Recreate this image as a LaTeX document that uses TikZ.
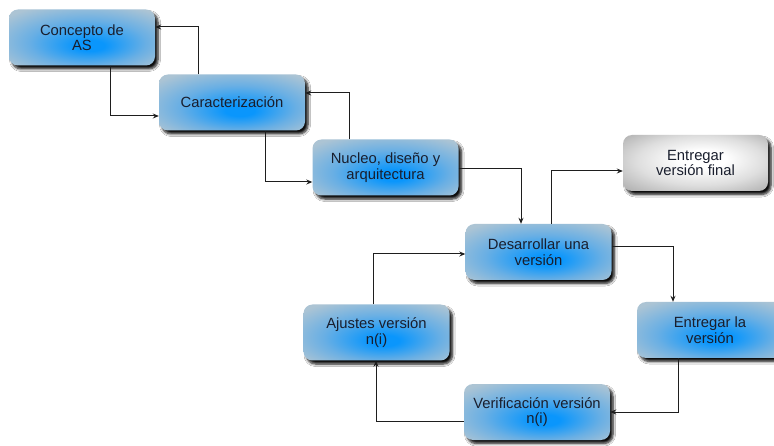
\documentclass[tikz,border=0pt]{standalone}
\usepackage{fontspec}
\setmainfont{Liberation Sans}
\usetikzlibrary{shadows,shadows.blur,arrows.meta,calc}
\definecolor{boxin}{RGB}{10,150,252}
\definecolor{boxmid}{RGB}{105,175,228}
\definecolor{boxout}{RGB}{172,196,212}
\definecolor{grayin}{RGB}{255,255,255}
\definecolor{graymid}{RGB}{222,222,222}
\definecolor{grayout}{RGB}{175,175,175}
\definecolor{txt}{RGB}{25,30,45}
\definecolor{ln}{RGB}{30,30,30}
\pgfdeclareradialshading{blueshade}{\pgfpoint{3bp}{-8bp}}{color(0bp)=(boxin); color(5bp)=(boxin); color(20bp)=(boxmid); color(34bp)=(boxout); color(50bp)=(boxout)}
\pgfdeclareradialshading{grayshade}{\pgfpoint{3bp}{4bp}}{color(0bp)=(grayin); color(8bp)=(grayin); color(22bp)=(graymid); color(36bp)=(grayout); color(50bp)=(grayout)}
\tikzset{
  box/.style={rectangle, rounded corners=9pt, minimum width=146pt, minimum height=56pt,
    inner sep=2pt, align=center, text=txt, font=\fontsize{14.8}{15.5}\selectfont,
    shading=blueshade,
    blur shadow={shadow xshift=3pt, shadow yshift=-3.5pt, shadow blur radius=2.5pt, shadow opacity=95, shadow blur steps=6}},
  graybox/.style={box, shading=grayshade},
  conn/.style={draw=ln, line width=1pt, -{Stealth[length=6pt,width=5pt]}}
}
\begin{document}
\begin{tikzpicture}[x=1pt,y=-1pt]
\useasboundingbox (0,0) rectangle (774,446);
\fill[white] (0,0) rectangle (774,446);
\node[box] (c1) at (82,37.5) {Concepto de\\AS};
\node[box] (c2) at (232,102.5) {Caracterización};
\node[box] (c3) at (385.5,167.5) {Nucleo, diseño y\\arquitectura};
\node[graybox, minimum width=145pt] (fin) at (695.5,163) {Entregar\\versión final};
\node[box] (des) at (538.5,252) {Desarrollar una\\versión};
\node[box] (ent) at (710,330) {Entregar la\\versión};
\node[box] (aju) at (376.5,332.5) {Ajustes versión\\n(i)};
\node[box] (ver) at (537,412) {Verificación versión\\n(i)};
% connectors
\draw[conn] ([xshift=-34pt]c2.north) |- ([yshift=10.5pt]c1.east);
\draw[conn] ([xshift=28pt]c1.south) |- ([yshift=-13.5pt]c2.west);
\draw[conn] ([xshift=-36.5pt]c3.north) |- ([yshift=9.5pt]c2.east);
\draw[conn] ([xshift=33pt]c2.south) |- ([yshift=-14.5pt]c3.west);
\draw[conn] ([yshift=-1.5pt]c3.east) -| ([xshift=-17.5pt]des.north);
\draw[conn] ([xshift=12.5pt]des.north) |- ([yshift=-8pt]fin.west);
\draw[conn] ([yshift=5pt]des.east) -| ([xshift=-37pt]ent.north);
\draw[conn] ([xshift=-32pt]ent.south) |- (ver.east);
\draw[conn] ([yshift=-9pt]ver.west) -| ([xshift=-0.5pt]aju.south);
\draw[conn] ([xshift=-3.5pt]aju.north) |- ([yshift=-2pt]des.west);
\end{tikzpicture}
\end{document}
